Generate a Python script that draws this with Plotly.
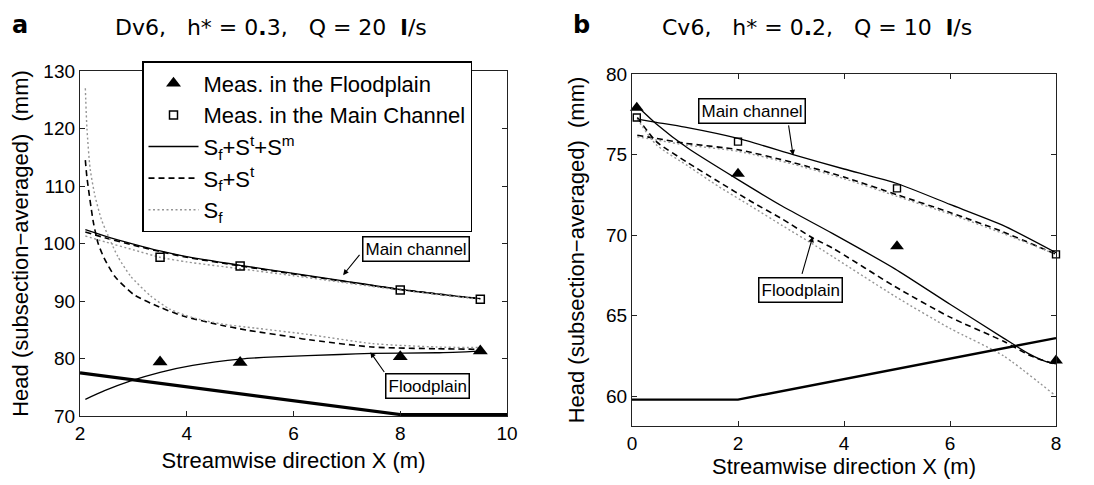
import plotly.graph_objects as go

# ---------------- Panel a data (Dv6) ----------------
a_meas_x = [3.5, 5.0, 8.0, 9.5]
a_meas_fp = [79.4, 79.3, 80.3, 81.3]
a_meas_mc = [97.6, 96.1, 91.9, 90.3]

a_mc_x = [2.1, 2.5, 3.0, 3.5, 4.0, 5.0, 6.0, 6.87, 8.0, 9.0, 9.5]
a_mc_full = [102.4, 101.2, 99.9, 98.7, 97.7, 96.2, 94.8, 93.6, 92.0, 90.9, 90.4]
a_mc_turb = [102.0, 100.9, 99.7, 98.6, 97.6, 96.1, 94.7, 93.5, 92.0, 90.9, 90.4]
a_mc_fric = [101.3, 100.2, 98.9, 97.6, 96.8, 95.6, 94.4, 93.3, 91.9, 90.8, 90.3]

a_fp_full_x = [2.1, 2.46, 2.95, 3.5, 4.11, 5.0, 5.66, 6.87, 7.47, 8.68, 9.53]
a_fp_full = [72.9, 74.4, 76.1, 77.6, 78.8, 79.9, 80.3, 80.7, 80.9, 81.0, 81.3]

a_fp_turb_x = [2.1, 2.13, 2.25, 2.34, 2.45, 2.65, 3.01, 3.5, 3.93, 4.54, 5.15, 6.0, 6.26, 7.47, 8.68, 9.53]
a_fp_turb = [114.5, 111.5, 103.7, 100.0, 97.5, 94.3, 91.1, 88.9, 87.4, 86.0, 84.9, 83.7, 83.3, 82.0, 81.7, 81.6]

a_fp_fric_x = [2.1, 2.13, 2.19, 2.28, 2.4, 2.52, 2.71, 2.95, 3.32, 3.68, 4.11, 4.66, 5.27, 6.26, 7.47, 8.68, 9.53]
a_fp_fric = [127.0, 120.0, 113.0, 108.3, 104.2, 101.5, 97.7, 94.3, 90.9, 88.6, 87.1, 86.0, 85.3, 84.2, 82.6, 82.0, 81.9]

a_bed_x = [2.0, 8.0, 10.0]
a_bed_y = [77.5, 70.25, 70.25]

# ---------------- Panel b data (Cv6) ----------------
b_meas_x = [0.09, 2.0, 5.0, 8.0]
b_meas_fp = [77.9, 73.8, 69.3, 62.2]
b_meas_mc = [77.3, 75.8, 72.9, 68.8]

b_mc_x = [0.1, 0.46, 1.0, 2.0, 3.04, 4.0, 5.0, 6.0, 7.0, 8.0]
b_mc_full = [77.2, 77.0, 76.7, 76.0, 75.0, 74.1, 73.2, 71.9, 70.6, 68.9]
b_mc_turb = [76.2, 76.0, 75.7, 75.3, 74.5, 73.6, 72.5, 71.4, 70.2, 68.8]
b_mc_fric = [76.1, 75.9, 75.6, 75.2, 74.4, 73.5, 72.4, 71.3, 70.1, 68.8]

b_fp_x = [0.1, 0.46, 1.05, 1.97, 2.83, 3.78, 4.96, 6.0, 7.01, 7.5, 7.8, 8.0]
b_fp_full = [78.0, 76.9, 75.4, 73.5, 71.8, 70.1, 67.9, 65.7, 63.6, 62.6, 62.15, 62.0]

b_fp_turb_x = [0.1, 0.46, 1.05, 1.64, 2.24, 2.83, 3.42, 3.78, 4.96, 6.0, 7.01, 7.52, 7.96]
b_fp_turb = [77.3, 75.8, 74.5, 73.3, 72.1, 71.0, 69.8, 69.2, 66.8, 64.9, 63.4, 62.5, 62.0]

b_fp_fric_x = [0.1, 0.46, 1.05, 1.64, 2.24, 2.83, 3.48, 4.96, 6.0, 7.01, 7.96]
b_fp_fric = [77.2, 75.6, 74.3, 73.0, 71.8, 70.6, 69.3, 66.2, 64.2, 62.5, 60.1]

b_bed_x = [0.0, 2.0, 8.0]
b_bed_y = [59.78, 59.78, 63.6]

# ---------------- text ----------------
title_a = "Dv6,\u00a0\u00a0 h*\u00a0=\u00a00<b>.</b>3,\u00a0\u00a0 Q\u00a0=\u00a020\u00a0 <b>l</b>/s"
title_b = "Cv6,\u00a0\u00a0 h*\u00a0=\u00a00<b>.</b>2,\u00a0\u00a0 Q\u00a0=\u00a010\u00a0 <b>l</b>/s"
x_title = "Streamwise direction X (m)"
y_title = "Head (subsection\u2212averaged)\u00a0 (mm)"
leg_names = ["Meas. in the Floodplain", "Meas. in the Main Channel",
             "S<sub>f</sub>+S<sup>t</sup>+S<sup>m</sup>", "S<sub>f</sub>+S<sup>t</sup>", "S<sub>f</sub>"]

FONT = "Liberation Sans, Arial, sans-serif"
DOT = "2px,2.5px"
DASH = "6px,4px"
GREY = "#959595"

# page body adds an 8px offset; the figure is sized to fit the window
OFF = 8
W, H = 1094 - OFF, 485 - OFF

def px_x(X):
    return (X - OFF) / W

def px_y(Y):
    return 1 - (Y - OFF) / H

fig = go.Figure()

def line(x, y, xa, ya, kind, name=None, show=False, rank=None, width=None):
    if kind == "solid":
        ln = dict(color="black", width=width or 1.3)
    elif kind == "dash":
        ln = dict(color="black", width=width or 1.6, dash=DASH)
    else:
        ln = dict(color=GREY, width=width or 1.4, dash=DOT)
    ln["shape"] = "spline"
    ln["smoothing"] = 0.6
    fig.add_trace(go.Scatter(x=x, y=y, mode="lines", line=ln, xaxis=xa, yaxis=ya,
                             name=name, showlegend=show, legendrank=rank,
                             hoverinfo="skip"))

# panel a lines
line(a_mc_x, a_mc_full, "x", "y", "solid", leg_names[2], True, 3)
line(a_mc_x, a_mc_turb, "x", "y", "dash", leg_names[3], True, 4)
line(a_mc_x, a_mc_fric, "x", "y", "dot", leg_names[4], True, 5)
line(a_fp_full_x, a_fp_full, "x", "y", "solid")
line(a_fp_turb_x, a_fp_turb, "x", "y", "dash")
line(a_fp_fric_x, a_fp_fric, "x", "y", "dot")
fig.add_trace(go.Scatter(x=a_bed_x, y=a_bed_y, mode="lines", line=dict(color="black", width=3.2),
                         xaxis="x", yaxis="y", showlegend=False, hoverinfo="skip"))

# panel b lines
line(b_mc_x, b_mc_full, "x2", "y2", "solid")
line(b_mc_x, b_mc_turb, "x2", "y2", "dash")
line(b_mc_x, b_mc_fric, "x2", "y2", "dot")
line(b_fp_x, b_fp_full, "x2", "y2", "solid")
line(b_fp_turb_x, b_fp_turb, "x2", "y2", "dash")
line(b_fp_fric_x, b_fp_fric, "x2", "y2", "dot")
fig.add_trace(go.Scatter(x=b_bed_x, y=b_bed_y, mode="lines", line=dict(color="black", width=2.4),
                         xaxis="x2", yaxis="y2", showlegend=False, hoverinfo="skip"))

# markers
fig.add_trace(go.Scatter(x=a_meas_x, y=a_meas_fp, mode="markers", name=leg_names[0], legendrank=1,
                         marker=dict(symbol="triangle-up", size=13, color="black"),
                         xaxis="x", yaxis="y", cliponaxis=False))
fig.add_trace(go.Scatter(x=a_meas_x, y=a_meas_mc, mode="markers", name=leg_names[1], legendrank=2,
                         marker=dict(symbol="square-open", size=8, color="black", line=dict(width=1.5)),
                         xaxis="x", yaxis="y", cliponaxis=False))
fig.add_trace(go.Scatter(x=b_meas_x, y=b_meas_fp, mode="markers", showlegend=False,
                         marker=dict(symbol="triangle-up", size=12, color="black"),
                         xaxis="x2", yaxis="y2", cliponaxis=False))
fig.add_trace(go.Scatter(x=b_meas_x, y=b_meas_mc, mode="markers", showlegend=False,
                         marker=dict(symbol="square-open", size=7, color="black", line=dict(width=1.4)),
                         xaxis="x2", yaxis="y2", cliponaxis=False))

axis_common = dict(showline=True, linecolor="#222", linewidth=1.3, mirror="ticks",
                   ticks="inside", ticklen=5, tickwidth=1.2, tickcolor="#222",
                   showgrid=False, zeroline=False, automargin=False,
                   tickfont=dict(family=FONT, size=19, color="black"),
                   title_font=dict(family=FONT, size=22, color="black"))

fig.update_layout(
    template="none",
    width=W, height=H,
    margin=dict(l=0, r=0, t=0, b=0, autoexpand=False),
    paper_bgcolor="white", plot_bgcolor="white",
    font=dict(family=FONT, color="black"),
    xaxis=dict(domain=[px_x(80), px_x(507)], range=[2, 10], tickvals=[2, 4, 6, 8, 10], anchor="y",
               title=dict(text=x_title, standoff=9), **axis_common),
    yaxis=dict(domain=[px_y(416), px_y(71)], range=[70, 130], tickvals=[70, 80, 90, 100, 110, 120, 130],
               anchor="x", title=dict(text=y_title, standoff=9), **axis_common),
    xaxis2=dict(domain=[px_x(632), px_x(1056)], range=[0, 8], tickvals=[0, 2, 4, 6, 8], anchor="y2",
                title=dict(text=x_title, standoff=3), **axis_common),
    yaxis2=dict(domain=[px_y(426), px_y(74)], range=[58.14, 80], tickvals=[60, 65, 70, 75, 80],
                anchor="x2", title=dict(text=y_title, standoff=15), **axis_common),
    legend=dict(x=px_x(142), y=px_y(61), xanchor="left", yanchor="top",
                bgcolor="white", bordercolor="black", borderwidth=1.5,
                font=dict(family=FONT, size=22, color="black"),
                itemwidth=50, tracegroupgap=0),
    showlegend=True,
)

anns = []
# panel letters and titles
anns.append(dict(text="<b>a</b>", x=px_x(20), y=px_y(25), xref="paper", yref="paper", showarrow=False,
                 xanchor="center", yanchor="middle",
                 font=dict(family="DejaVu Sans", size=24, color="black")))
anns.append(dict(text=title_a, x=px_x(271), y=px_y(27), xref="paper", yref="paper", showarrow=False,
                 xanchor="center", yanchor="middle",
                 font=dict(family="DejaVu Sans", size=22, color="black")))
anns.append(dict(text="<b>b</b>", x=px_x(581), y=px_y(25), xref="paper", yref="paper", showarrow=False,
                 xanchor="center", yanchor="middle",
                 font=dict(family="DejaVu Sans", size=24, color="black")))
anns.append(dict(text=title_b, x=px_x(817), y=px_y(27), xref="paper", yref="paper", showarrow=False,
                 xanchor="center", yanchor="middle",
                 font=dict(family="DejaVu Sans", size=22, color="black")))

box = dict(showarrow=False, bordercolor="black", borderwidth=1.5, borderpad=2, bgcolor="white",
           xanchor="center", yanchor="middle",
           font=dict(family=FONT, size=17, color="black"))
anns.append(dict(text="Main channel", x=8.30, y=99.05, xref="x", yref="y", **box))
anns.append(dict(text="Floodplain", x=8.51, y=75.2, xref="x", yref="y", **box))
anns.append(dict(text="Main channel", x=2.255, y=77.69, xref="x2", yref="y2", **box))
anns.append(dict(text="Floodplain", x=3.17, y=66.57, xref="x2", yref="y2", **box))

arrow = dict(text="", showarrow=True, arrowhead=2, arrowsize=1, arrowwidth=1.1, arrowcolor="black",
             standoff=0, startstandoff=0)
anns.append(dict(x=6.93, y=94.5, ax=7.26, ay=98.3, xref="x", yref="y", axref="x", ayref="y", **arrow))
anns.append(dict(x=7.44, y=81.1, ax=7.72, ay=77.4, xref="x", yref="y", axref="x", ayref="y", **arrow))
anns.append(dict(x=3.04, y=74.95, ax=2.95, ay=76.9, xref="x2", yref="y2", axref="x2", ayref="y2", **arrow))
anns.append(dict(x=3.41, y=69.9, ax=3.2, ay=67.5, xref="x2", yref="y2", axref="x2", ayref="y2", **arrow))

fig.update_layout(annotations=anns)
fig.write_html("out.html")
